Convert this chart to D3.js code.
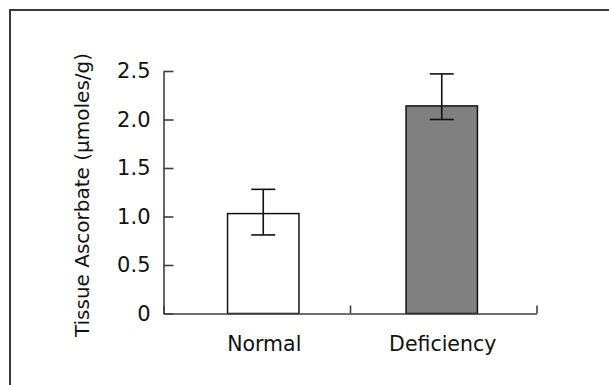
<!DOCTYPE html>
<html>
<head>
<meta charset="utf-8">
<script src="https://cdn.jsdelivr.net/npm/d3@7"></script>
<style>
  body { margin: 0; background: #fff; }
  svg text { font-family: "DejaVu Sans", Verdana, sans-serif; fill: #111; }
</style>
</head>
<body>
<svg id="chart" width="609" height="385"></svg>
<script>
// chart data
const categories = ["Normal", "Deficiency"];
const means = [1.03, 2.14];
const errLow = [0.81, 2.0];
const errHigh = [1.28, 2.47];
const yTicks = [0, 0.5, 1.0, 1.5, 2.0, 2.5];
const yTickLabels = ["0", "0.5", "1.0", "1.5", "2.0", "2.5"];
const barFills = ["#ffffff", "#808080"];
const yTitle = "Tissue Ascorbate (\u00b5moles/g)";

const svg = d3.select("#chart");
const axisColor = "#404040";

// outer frame (runs off the right and bottom edge)
svg.append("rect")
    .attr("x", 10).attr("y", 10)
    .attr("width", 700).attr("height", 500)
    .attr("fill", "none")
    .attr("stroke", "#3a3a3a")
    .attr("stroke-width", 2);

// scales
const y = d3.scaleLinear().domain([0, 2.5]).range([313.5, 71]);
const xAxisScale = d3.scaleLinear().domain([0, categories.length]).range([163.5, 536.5]);
const x = d3.scaleBand()
    .domain(categories)
    .range([174, 531])
    .paddingInner(0.6)
    .paddingOuter(0.3);

// y axis
const yAxis = svg.append("g")
    .attr("transform", `translate(${xAxisScale.range()[0]},0)`)
    .call(d3.axisLeft(y)
        .tickValues(yTicks)
        .tickFormat((d, i) => yTickLabels[i])
        .tickSizeInner(-10)
        .tickSizeOuter(0)
        .tickPadding(13));
yAxis.select(".domain").attr("stroke", axisColor).attr("stroke-width", 1.6);
yAxis.selectAll(".tick line").attr("stroke", axisColor).attr("stroke-width", 1.6);
yAxis.selectAll(".tick text")
    .attr("font-size", 21)
    .attr("font-family", "DejaVu Sans")
    .attr("fill", "#111");

// bars
svg.selectAll(".bar")
    .data(categories)
    .enter().append("rect")
    .attr("class", "bar")
    .attr("x", d => x(d))
    .attr("width", x.bandwidth())
    .attr("y", (d, i) => y(means[i]))
    .attr("height", (d, i) => y(0) - y(means[i]))
    .attr("fill", (d, i) => barFills[i])
    .attr("stroke", "#111")
    .attr("stroke-width", 1.5);

// error bars
const cap = 12;
const err = svg.selectAll(".err")
    .data(categories)
    .enter().append("g")
    .attr("class", "err")
    .attr("stroke", "#111")
    .attr("stroke-width", 1.6);
err.append("line")
    .attr("x1", d => x(d) + x.bandwidth() / 2)
    .attr("x2", d => x(d) + x.bandwidth() / 2)
    .attr("y1", (d, i) => y(errLow[i]))
    .attr("y2", (d, i) => y(errHigh[i]));
err.append("line")
    .attr("x1", d => x(d) + x.bandwidth() / 2 - cap)
    .attr("x2", d => x(d) + x.bandwidth() / 2 + cap)
    .attr("y1", (d, i) => y(errHigh[i]))
    .attr("y2", (d, i) => y(errHigh[i]));
err.append("line")
    .attr("x1", d => x(d) + x.bandwidth() / 2 - cap)
    .attr("x2", d => x(d) + x.bandwidth() / 2 + cap)
    .attr("y1", (d, i) => y(errLow[i]))
    .attr("y2", (d, i) => y(errLow[i]));

// x axis (category boundaries, ticks point up)
const xAxis = svg.append("g")
    .attr("transform", `translate(0,${y(0)})`)
    .call(d3.axisBottom(xAxisScale)
        .tickValues(d3.range(categories.length + 1))
        .tickFormat("")
        .tickSizeInner(-8)
        .tickSizeOuter(0));
xAxis.select(".domain").attr("stroke", axisColor).attr("stroke-width", 1.6);
xAxis.selectAll(".tick line").attr("stroke", axisColor).attr("stroke-width", 1.6);

// category labels
svg.selectAll(".cat")
    .data(categories)
    .enter().append("text")
    .attr("class", "cat")
    .attr("x", d => x(d) + x.bandwidth() / 2 + 1)
    .attr("y", 351)
    .attr("text-anchor", "middle")
    .attr("font-size", 20.5)
    .text(d => d);

// y title
svg.append("text")
    .attr("transform", "translate(89,195) rotate(-90)")
    .attr("text-anchor", "middle")
    .attr("font-size", 20)
    .text(yTitle);
</script>
</body>
</html>
